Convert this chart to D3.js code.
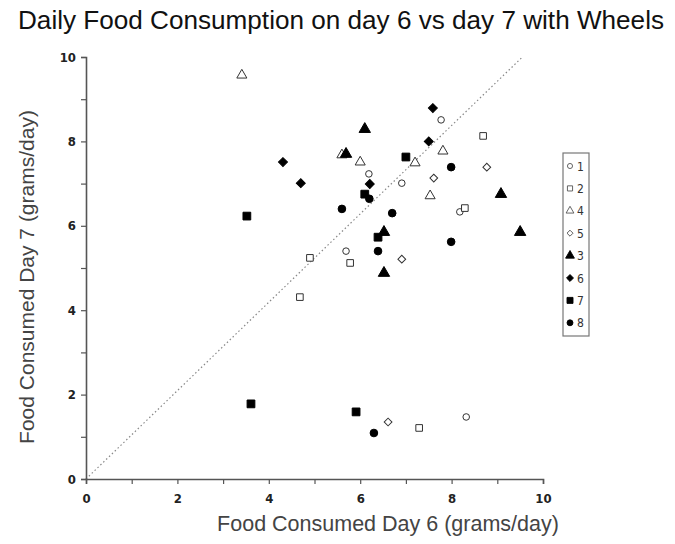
<!DOCTYPE html>
<html><head><meta charset="utf-8">
<script src="https://cdn.jsdelivr.net/npm/d3@7"></script>
<style>body{margin:0;background:#fff}svg{display:block}</style>
</head><body>
<svg id="c" width="675" height="544"></svg>
<script>
const title = "Daily Food Consumption on day 6 vs day 7 with Wheels";
const xLabel = "Food Consumed Day 6 (grams/day)";
const yLabel = "Food Consumed Day 7 (grams/day)";
const xTicks = [0,2,4,6,8,10];
const yTicks = [0,2,4,6,8,10];
const legendOrder = ["1","2","4","5","3","6","7","8"];
const refLine = [[0,0],[9.55,10]];

const s1 = [[5.69,5.40],[6.19,7.23],[7.77,8.51],[8.18,6.33],[8.32,1.47],[6.91,7.01]];
const s2 = [[4.68,4.31],[4.90,5.24],[5.78,5.12],[8.69,8.13],[8.29,6.42],[7.29,1.21]];
const s4 = [[3.41,9.57],[5.60,7.68],[6.00,7.51],[7.20,7.49],[7.53,6.71],[7.81,7.77]];
const s5 = [[6.91,5.21],[7.61,7.13],[8.77,7.39],[6.61,1.35]];
const s3 = [[5.69,7.70],[6.10,8.29],[6.52,5.85],[6.52,4.88],[9.08,6.75],[9.50,5.85]];
const s6 = [[4.31,7.51],[4.70,7.01],[6.21,6.99],[7.59,8.79],[7.50,8.00]];
const s7 = [[3.52,6.23],[3.61,1.78],[6.10,6.75],[7.00,7.63],[6.39,5.73],[5.91,1.59]];
const s8 = [[5.60,6.40],[6.20,6.64],[6.70,6.30],[6.39,5.40],[7.99,7.39],[7.99,5.62],[6.30,1.09]];

const seriesData = {"1":s1,"2":s2,"4":s4,"5":s5,"3":s3,"6":s6,"7":s7,"8":s8};
const seriesStyle = {
  "1":{sym:d3.symbolCircle,size:34,fill:false,rot:0},
  "2":{sym:d3.symbolSquare,size:44,fill:false,rot:0},
  "4":{sym:d3.symbolTriangle,size:44,fill:false,rot:0},
  "5":{sym:d3.symbolSquare,size:30,fill:false,rot:45},
  "3":{sym:d3.symbolTriangle,size:56,fill:true,rot:0},
  "6":{sym:d3.symbolSquare,size:40,fill:true,rot:45},
  "7":{sym:d3.symbolSquare,size:60,fill:true,rot:0},
  "8":{sym:d3.symbolCircle,size:46,fill:true,rot:0}
};

const svg = d3.select("#c");
const x = d3.scaleLinear().domain([0,10]).range([86,543]);
const y = d3.scaleLinear().domain([0,10]).range([479,57]);
const axisColor = "#555";
const tickFont = "'Liberation Sans Narrow','DejaVu Sans Condensed','Liberation Sans',sans-serif";

svg.append("text").attr("x",18).attr("y",29)
  .attr("font-family","'Liberation Sans',Arial,sans-serif").attr("font-size",25)
  .attr("textLength",646).attr("lengthAdjust","spacingAndGlyphs")
  .attr("fill","#111").text(title);

// reference line
svg.append("path").datum(refLine)
  .attr("d", d3.line().x(d=>x(d[0])).y(d=>y(d[1])))
  .attr("stroke","#888").attr("stroke-width",1.2).attr("stroke-dasharray","1.5,2.5").attr("fill","none");

// x axis
const xAxis = d3.axisBottom(x).tickValues(d3.range(0,11,1)).tickSize(5)
  .tickFormat(d => xTicks.includes(d) ? d : "");
const gx = svg.append("g").attr("transform","translate(0,479)").call(xAxis);
gx.select(".domain").attr("stroke",axisColor).attr("stroke-width",1.6);
gx.selectAll(".tick line").attr("stroke",axisColor).attr("stroke-width",1.2);
gx.selectAll(".tick text").attr("font-family",tickFont).attr("font-size",13).attr("font-weight","bold")
  .attr("fill","#222").attr("dy","1.25em");

// y axis
const yAxis = d3.axisLeft(y).tickValues(d3.range(0,11,1)).tickSize(5)
  .tickFormat(d => yTicks.includes(d) ? d : "");
const gy = svg.append("g").attr("transform","translate(86,0)").call(yAxis);
gy.select(".domain").attr("stroke",axisColor).attr("stroke-width",1.6);
gy.selectAll(".tick line").attr("stroke",axisColor).attr("stroke-width",1.2);
gy.selectAll(".tick text").attr("font-family",tickFont).attr("font-size",13).attr("font-weight","bold")
  .attr("fill","#222").attr("x",-10);

// axis labels
svg.append("text").attr("x",388).attr("y",531).attr("text-anchor","middle")
  .attr("font-family","'Liberation Sans',Arial,sans-serif").attr("font-size",21.5)
  .attr("fill","#444").text(xLabel);
svg.append("text").attr("transform","translate(34,277) rotate(-90)").attr("text-anchor","middle")
  .attr("font-family","'Liberation Sans',Arial,sans-serif").attr("font-size",21)
  .attr("fill","#444").text(yLabel);

// points
legendOrder.forEach(k => {
  const st = seriesStyle[k];
  const sym = d3.symbol().type(st.sym).size(st.size);
  svg.append("g").selectAll("path").data(seriesData[k]).join("path")
    .attr("transform", d => `translate(${x(d[0])},${y(d[1])}) rotate(${st.rot})`)
    .attr("d", sym)
    .attr("fill", st.fill ? "#000" : "#fff")
    .attr("stroke", st.fill ? "#000" : "#333")
    .attr("stroke-width", 1);
});

// legend
const lg = svg.append("g");
lg.append("rect").attr("x",563).attr("y",153).attr("width",26).attr("height",183)
  .attr("fill","#fff").attr("stroke","#777").attr("stroke-width",1.2);
legendOrder.forEach((k,i) => {
  const st = seriesStyle[k];
  const cy = 166 + i*22.4;
  lg.append("path").attr("transform",`translate(570,${cy}) rotate(${st.rot})`)
    .attr("d", d3.symbol().type(st.sym).size(st.size*0.6)())
    .attr("fill", st.fill ? "#000" : "#fff").attr("stroke", st.fill ? "#000" : "#555").attr("stroke-width",0.9);
  lg.append("text").attr("x",577).attr("y",cy+4.5).attr("font-family",tickFont)
    .attr("font-size",12).attr("fill","#333").text(k);
});
</script>
</body></html>
